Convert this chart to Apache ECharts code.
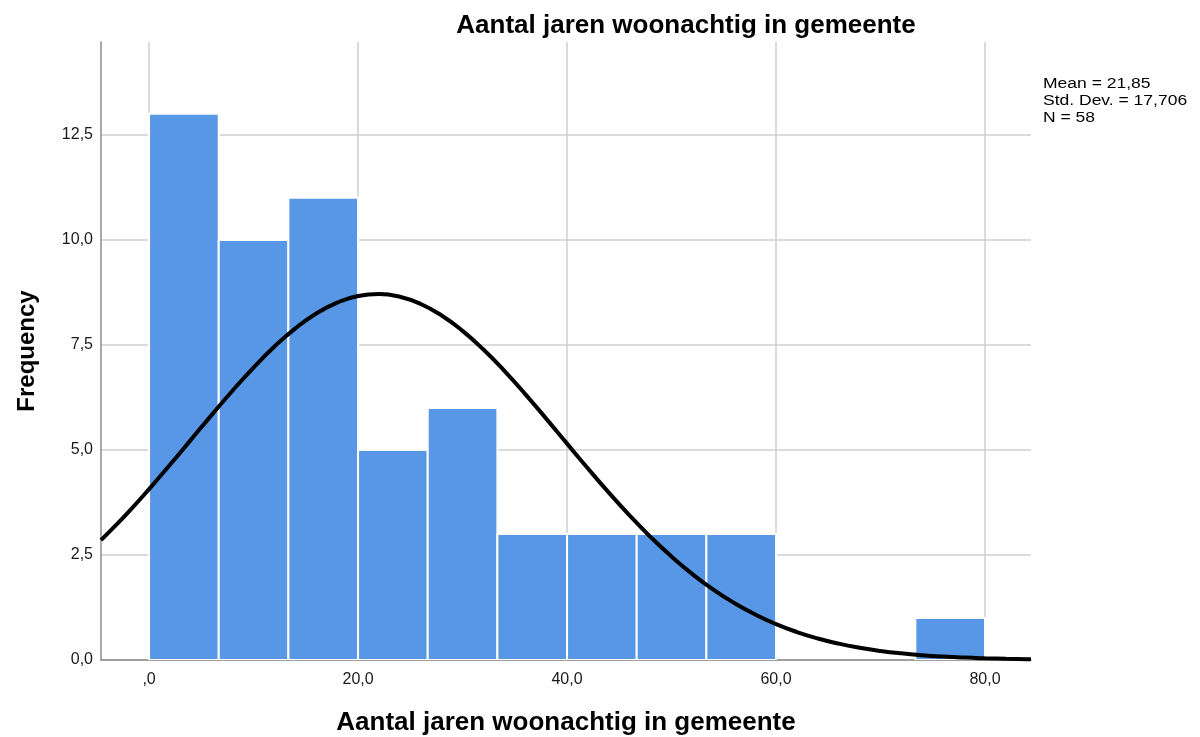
<!DOCTYPE html>
<html>
<head>
<meta charset="utf-8">
<script src="https://cdn.jsdelivr.net/npm/echarts@6/dist/echarts.min.js"></script>
<style>
html,body{margin:0;padding:0;background:#fff;}
#chart{width:1200px;height:737px;}
</style>
</head>
<body>
<div id="chart"></div>
<script>
// Histogram bins
var binLower = [0, 6.667, 13.333, 20, 26.667, 33.333, 40, 46.667, 53.333, 60, 66.667, 73.333];
var binUpper = [6.667, 13.333, 20, 26.667, 33.333, 40, 46.667, 53.333, 60, 66.667, 73.333, 80];
var binCounts = [13, 10, 11, 5, 6, 3, 3, 3, 3, 0, 0, 1];

// Normal curve points
var curveX = [-4.6, -4, -2, 0, 2, 4, 6, 8, 10, 12, 14, 16, 18, 20, 22, 24, 26, 28, 30, 32, 34, 36, 38, 40, 42, 44, 46, 48, 50, 52, 54, 56, 58, 60, 62, 64, 66, 68, 70, 72, 74, 76, 78, 80, 82, 84, 84.4];
var curveY = [2.853, 3.001, 3.516, 4.068, 4.647, 5.240, 5.835, 6.415, 6.962, 7.462, 7.895, 8.247, 8.506, 8.663, 8.710, 8.646, 8.474, 8.200, 7.835, 7.390, 6.883, 6.330, 5.746, 5.150, 4.558, 3.983, 3.436, 2.926, 2.461, 2.044, 1.675, 1.356, 1.084, 0.855, 0.666, 0.512, 0.389, 0.292, 0.216, 0.158, 0.114, 0.081, 0.057, 0.040, 0.027, 0.018, 0.016];

// Ticks
var xTickValues = [0, 20, 40, 60, 80];
var xTickLabels = [',0', '20,0', '40,0', '60,0', '80,0'];
var yTickValues = [0, 2.5, 5, 7.5, 10, 12.5];
var yTickLabels = ['0,0', '2,5', '5,0', '7,5', '10,0', '12,5'];

// Texts
var chartTitle = 'Aantal jaren woonachtig in gemeente';
var xAxisName = 'Aantal jaren woonachtig in gemeente';
var yAxisName = 'Frequency';
var statsLines = ['Mean = 21,85', 'Std. Dev. = 17,706', 'N = 58'];

var barData = binLower.map(function (l, i) { return [l, binUpper[i], binCounts[i]]; });
var curveData = curveX.map(function (x, i) { return [x, curveY[i]]; });

function labelFor(values, labels) {
  return function (v) {
    for (var i = 0; i < values.length; i++) {
      if (Math.abs(values[i] - v) < 1e-6) return labels[i];
    }
    return '';
  };
}

var FONT = '"Liberation Sans", Arial, sans-serif';
var chart = echarts.init(document.getElementById('chart'), null, {renderer: 'canvas'});
chart.setOption({
  animation: false,
  backgroundColor: '#ffffff',
  textStyle: {fontFamily: FONT},
  title: {
    text: chartTitle,
    left: 681,
    top: 8,
    textAlign: 'center',
    textStyle: {fontFamily: FONT, fontSize: 26, fontWeight: 'bold', color: '#000'}
  },
  graphic: [{
    type: 'text',
    left: 1043,
    top: 76,
    scaleX: 1.25,
    style: {
      text: statsLines.join('\n'),
      font: '14px ' + FONT,
      fill: '#000',
      lineHeight: 17
    }
  }],
  grid: {left: 101, right: 169, top: 42, bottom: 77, containLabel: false, outerBoundsMode: 'none'},
  xAxis: {
    type: 'value',
    min: -4.6,
    max: 84.4,
    name: xAxisName,
    nameLocation: 'middle',
    nameGap: 50,
    nameTextStyle: {fontFamily: FONT, fontSize: 26, fontWeight: 'bold', color: '#000'},
    axisLine: {show: true, onZero: false, lineStyle: {color: '#8c8c8c', width: 1.5}},
    axisTick: {show: false, customValues: xTickValues},
    axisLabel: {
      customValues: xTickValues,
      formatter: labelFor(xTickValues, xTickLabels),
      margin: 12,
      fontSize: 16,
      color: '#1a1a1a',
      fontFamily: FONT
    },
    splitLine: {show: true, lineStyle: {color: '#cfcfcf', width: 1.5}}
  },
  yAxis: {
    type: 'value',
    min: 0,
    max: 14.71,
    name: yAxisName,
    nameLocation: 'middle',
    nameGap: 62,
    nameTextStyle: {fontFamily: FONT, fontSize: 24, fontWeight: 'bold', color: '#000'},
    axisLine: {show: true, onZero: false, lineStyle: {color: '#8c8c8c', width: 1.5}},
    axisTick: {show: false, customValues: yTickValues},
    axisLabel: {
      customValues: yTickValues,
      formatter: labelFor(yTickValues, yTickLabels),
      margin: 8,
      padding: [6, 0, 0, 0],
      fontSize: 16,
      color: '#1a1a1a',
      fontFamily: FONT
    },
    splitLine: {show: true, lineStyle: {color: '#cfcfcf', width: 1.5}}
  },
  series: [{
    type: 'custom',
    data: barData,
    encode: {x: [0, 1], y: 2},
    clip: true,
    renderItem: function (params, api) {
      var h = api.value(2);
      if (!h) return null;
      var p0 = api.coord([api.value(0), h]);
      var p1 = api.coord([api.value(1), 0]);
      return {
        type: 'rect',
        shape: {x: p0[0], y: p0[1], width: p1[0] - p0[0], height: p1[1] - p0[1]},
        style: {fill: '#5797e5', stroke: '#ffffff', lineWidth: 2}
      };
    },
    z: 2
  }, {
    type: 'line',
    data: curveData,
    smooth: true,
    showSymbol: false,
    clip: true,
    lineStyle: {color: '#000', width: 4},
    z: 3
  }]
});
</script>
</body>
</html>
